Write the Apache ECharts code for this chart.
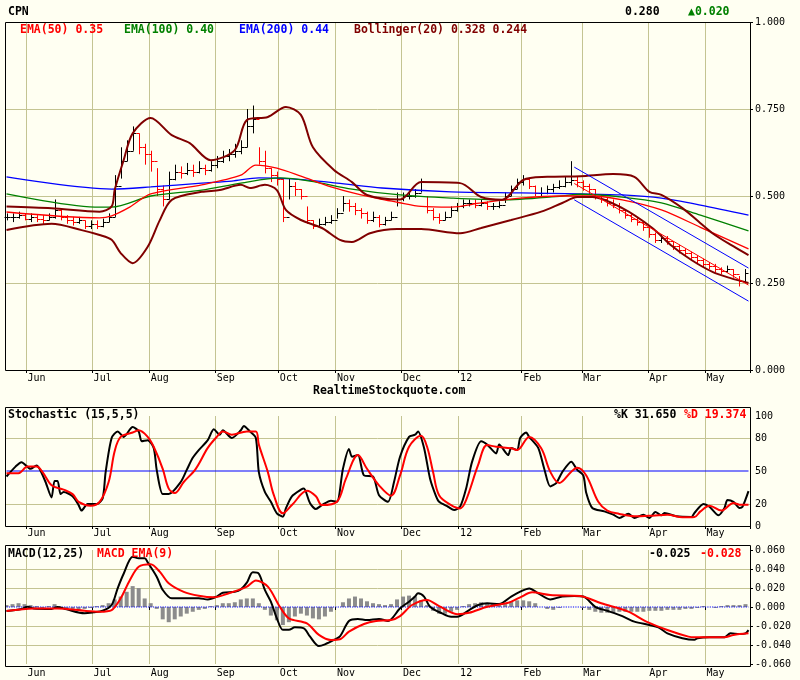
<!DOCTYPE html>
<html>
<head>
<meta charset="utf-8">
<script src="https://cdn.jsdelivr.net/npm/echarts@6/dist/echarts.min.js"></script>
<style>
html,body{margin:0;padding:0;background:#fffff2;}
#main{width:800px;height:680px;}
</style>
</head>
<body>
<div id="main"></div>
<script>
// trading days shown, month labels and the day each month starts on
var DAYS = 248;
var months = ['Jun','Jul','Aug','Sep','Oct','Nov','Dec','12','Feb','Mar','Apr','May'];
var monthStart = [7,29,48,70,91,110,132,151,172,192,214,233];

// price bars, one bar per 2 trading days
var BAR_STEP = 2;
var cl = [0.44,0.44,0.445,0.435,0.44,0.435,0.43,0.44,0.46,0.44,
	0.43,0.425,0.43,0.415,0.42,0.415,0.425,0.44,0.53,0.6,
	0.63,0.68,0.64,0.62,0.6,0.52,0.49,0.55,0.57,0.565,
	0.575,0.57,0.58,0.575,0.59,0.6,0.615,0.62,0.63,0.64,
	0.7,0.72,0.6,0.58,0.56,0.55,0.44,0.53,0.52,0.5,
	0.43,0.415,0.42,0.425,0.43,0.45,0.48,0.47,0.46,0.45,
	0.43,0.44,0.42,0.43,0.44,0.49,0.5,0.5,0.51,0.54,
	0.46,0.44,0.43,0.44,0.46,0.47,0.48,0.48,0.475,0.48,
	0.47,0.47,0.475,0.5,0.52,0.54,0.55,0.53,0.51,0.51,
	0.52,0.525,0.53,0.54,0.545,0.54,0.53,0.52,0.5,0.49,
	0.48,0.475,0.46,0.445,0.435,0.425,0.41,0.39,0.375,0.38,
	0.37,0.355,0.345,0.335,0.325,0.315,0.305,0.3,0.29,0.285,
	0.29,0.275,0.255,0.28];
var hi = [0.45,0.45,0.455,0.45,0.45,0.445,0.445,0.45,0.49,0.465,
	0.445,0.44,0.44,0.43,0.43,0.43,0.435,0.45,0.56,0.64,
	0.66,0.7,0.68,0.65,0.63,0.58,0.53,0.57,0.59,0.585,
	0.595,0.59,0.6,0.59,0.6,0.615,0.63,0.635,0.65,0.66,
	0.75,0.76,0.64,0.63,0.58,0.57,0.55,0.55,0.54,0.52,
	0.47,0.43,0.435,0.44,0.445,0.465,0.5,0.49,0.48,0.465,
	0.455,0.455,0.445,0.44,0.455,0.51,0.51,0.515,0.52,0.55,
	0.5,0.465,0.45,0.455,0.47,0.48,0.49,0.49,0.49,0.49,
	0.485,0.48,0.485,0.51,0.53,0.55,0.56,0.55,0.53,0.525,
	0.53,0.535,0.545,0.555,0.6,0.555,0.545,0.535,0.52,0.505,
	0.495,0.49,0.48,0.46,0.45,0.44,0.425,0.41,0.395,0.39,
	0.385,0.37,0.36,0.35,0.34,0.33,0.32,0.31,0.305,0.295,
	0.3,0.29,0.27,0.29];
var lo = [0.43,0.425,0.435,0.43,0.425,0.425,0.42,0.43,0.435,0.43,
	0.42,0.415,0.42,0.405,0.405,0.405,0.41,0.425,0.44,0.55,
	0.6,0.63,0.62,0.59,0.57,0.5,0.47,0.49,0.545,0.55,
	0.56,0.555,0.565,0.56,0.57,0.58,0.595,0.6,0.61,0.62,
	0.64,0.68,0.59,0.565,0.54,0.53,0.425,0.49,0.5,0.49,
	0.42,0.405,0.41,0.415,0.42,0.435,0.455,0.455,0.445,0.435,
	0.42,0.425,0.41,0.415,0.43,0.47,0.485,0.49,0.495,0.51,
	0.45,0.43,0.42,0.43,0.44,0.455,0.465,0.47,0.465,0.47,
	0.46,0.46,0.465,0.48,0.5,0.52,0.53,0.52,0.5,0.5,
	0.505,0.51,0.52,0.525,0.53,0.525,0.515,0.505,0.49,0.48,
	0.47,0.465,0.45,0.435,0.425,0.415,0.4,0.38,0.365,0.365,
	0.36,0.345,0.335,0.325,0.315,0.305,0.295,0.29,0.28,0.275,
	0.28,0.265,0.24,0.25];

// overlays on the price panel: [day, value]
var ema50 = [[0,0.454],[31,0.437],[35,0.443],[41,0.468],[48,0.506],[65,0.532],[78,0.56],[83,0.589],[90,0.58],
	[98,0.557],[108,0.526],[118,0.503],[125,0.49],[130,0.482],[138,0.47],[148,0.468],[158,0.48],[171,0.494],
	[185,0.5],[195,0.5],[205,0.489],[218,0.46],[231,0.41],[247,0.348]];
var ema100 = [[0,0.506],[31,0.468],[35,0.468],[48,0.5],[65,0.517],[78,0.537],[91,0.552],[101,0.543],[115,0.52],
	[131,0.503],[148,0.494],[165,0.489],[185,0.5],[191,0.505],[205,0.497],[218,0.48],[231,0.445],[247,0.4]];
var ema200 = [[0,0.555],[35,0.52],[48,0.526],[65,0.537],[75,0.543],[84,0.552],[95,0.549],[110,0.537],
	[125,0.523],[148,0.512],[171,0.509],[191,0.506],[205,0.503],[218,0.494],[231,0.474],[247,0.445]];
var bollUp = [[0,0.47],[15,0.465],[31,0.455],[35,0.47],[36,0.517],[39,0.603],[42,0.68],[48,0.724],[55,0.675],
	[61,0.652],[68,0.603],[76,0.632],[80,0.718],[87,0.727],[93,0.756],[98,0.733],[102,0.64],[109,0.575],
	[115,0.54],[120,0.503],[131,0.49],[138,0.54],[151,0.537],[158,0.497],[165,0.489],[172,0.546],[180,0.555],
	[191,0.557],[202,0.563],[209,0.555],[214,0.512],[218,0.503],[225,0.465],[231,0.422],[235,0.393],
	[241,0.36],[247,0.33]];
var bollLo = [[0,0.402],[15,0.42],[25,0.402],[31,0.388],[35,0.374],[38,0.336],[42,0.307],[47,0.354],[51,0.43],
	[55,0.489],[65,0.512],[71,0.517],[78,0.532],[81,0.523],[86,0.532],[90,0.517],[93,0.46],[98,0.431],
	[105,0.408],[111,0.374],[115,0.368],[121,0.393],[130,0.405],[138,0.405],[151,0.393],[158,0.408],
	[168,0.431],[178,0.455],[185,0.48],[190,0.497],[195,0.497],[205,0.465],[215,0.408],[221,0.36],
	[228,0.316],[235,0.282],[241,0.264],[247,0.25]];
var chanUp = [[189,0.583],[247,0.293]];
var chanMid = [[189,0.536],[247,0.244]];
var chanLo = [[189,0.489],[247,0.198]];

// stochastic %K and %D: [day, value]
var stochK = [[0,45],[3,54],[5,58],[8,52],[10,55],[11,52],[13,40],[15,26],[16,41],[17,41],[18,29],[19,31],
	[22,27],[24,19],[25,14],[27,20],[29,20],[30,20],[32,25],[33,49],[35,80],[37,86],[39,81],[42,90],[44,86],
	[45,77],[47,78],[49,71],[50,51],[52,29],[54,29],[58,40],[60,51],[62,62],[64,69],[67,78],[69,88],[71,83],
	[72,87],[75,80],[78,87],[79,91],[81,86],[83,80],[84,49],[86,31],[88,22],[90,11.5],[92,8.5],[93,16],
	[95,27],[98,33],[99,34],[101,21],[103,15.5],[105,19],[108,23],[110,22],[112,52],[114,70],[115,63],
	[117,64.5],[119,46],[122,45],[124,28],[127,22],[129,40],[131,63],[134,81],[136,83],[137,86],[139,71],
	[141,43],[143,27],[144,22],[147,17.5],[149,14.5],[151,17.5],[153,34],[155,58.5],[158,77],[160,74],
	[163,66],[164,74],[167,64.5],[168,71],[170,69],[171,80],[173,85],[174,81],[177,71],[179,52],[181,36],
	[183,39],[185,49],[188,58.5],[190,51],[192,46],[193,30],[195,16.4],[199,13.3],[202,10.3],[204,7.3],
	[207,11.2],[209,7.3],[212,10.3],[214,7.3],[216,12.7],[218,9.7],[219,11.8],[223,8.8],[228,8.2],
	[229,11.8],[232,20],[234,17.5],[237,9.7],[239,16.4],[240,23.6],[242,22],[244,16.4],[245,17.5],[247,31.65]];
var stochD = [[0,48],[4,48],[7,54],[10,54],[12,49],[15,37],[19,33],[22,29],[24,22],[28,18.5],[31,22],[34,40],
	[36,68],[38,81],[42,85],[44,87],[47,81],[49,72],[52,52],[54,34],[56,30],[59,40],[63,52],[67,71],[70,81],
	[72,86],[75,83],[80,86],[83,86],[84,74],[87,49],[89,28],[92,11.5],[95,19],[100,32],[103,27],[105,19],
	[110,22],[113,43],[117,64.5],[120,52],[124,37],[128,27.6],[131,46],[134,72],[138,82],[140,72],[142,49],
	[144,28],[148,19],[151,16],[153,23.6],[157,55.5],[160,73.6],[163,72],[168,70.6],[170,69],[174,81],
	[178,70.6],[181,49.4],[184,39],[188,49.4],[190,53],[193,46],[197,22],[200,14],[204,11],[209,8.8],
	[215,9.4],[220,10.3],[225,7.9],[229,8.2],[231,13.3],[234,18.5],[238,14],[242,21],[244,19.4],[247,19.4]];
var stochMid = [[0,50],[247,50]];

// MACD line, its EMA(9) signal: [day, value]; histogram per price bar
var macd = [[0,-0.0042],[5,-0.0022],[7,0.0002],[9,-0.0015],[15,-0.002],[17,0],[20,-0.0025],[26,-0.0066],
	[29,-0.0056],[32,-0.004],[35,0.0021],[37,0.0197],[39,0.035],[42,0.053],[44,0.0512],[46,0.0512],[47,0.047],
	[50,0.0319],[52,0.018],[55,0.0091],[59,0.0091],[64,0.0091],[67,0.008],[70,0.011],[72,0.015],[76,0.016],
	[78,0.0186],[80,0.0256],[82,0.0365],[84,0.035],[86,0.018],[88,0.0056],[90,-0.0119],[92,-0.024],
	[94,-0.024],[96,-0.0214],[99,-0.0225],[101,-0.031],[104,-0.0411],[106,-0.0393],[109,-0.0347],
	[111,-0.031],[114,-0.0147],[117,-0.0126],[120,-0.0137],[124,-0.0126],[127,-0.0147],[131,-0.0014],
	[134,0.0056],[136,0.011],[137,0.0144],[139,0.011],[141,0.0002],[145,-0.0068],[148,-0.0103],[150,-0.0103],
	[154,-0.0032],[157,0.0021],[160,0.0039],[164,0.0032],[168,0.011],[171,0.0161],[174,0.0196],[177,0.0144],
	[181,0.008],[185,0.011],[189,0.0116],[192,0.011],[196,0.0002],[200,-0.004],[205,-0.0096],[209,-0.0154],
	[214,-0.0189],[217,-0.0214],[220,-0.0277],[225,-0.0328],[229,-0.0345],[230,-0.0328],[234,-0.0319],
	[239,-0.0319],[241,-0.0277],[244,-0.0284],[246,-0.0277],[247,-0.0243]];
var signal = [[0,-0.0042],[9,-0.0015],[17,-0.0015],[26,-0.004],[31,-0.0049],[35,-0.0032],[38,0.0091],
	[41,0.028],[44,0.0424],[48,0.045],[51,0.0372],[54,0.025],[59,0.016],[64,0.0119],[69,0.0102],[74,0.0144],
	[80,0.0214],[83,0.028],[87,0.0214],[91,0.0002],[94,-0.0119],[100,-0.0172],[104,-0.0294],[108,-0.0347],
	[111,-0.034],[114,-0.026],[119,-0.0179],[123,-0.0147],[128,-0.0137],[131,-0.0096],[135,0.0021],
	[140,0.0074],[144,0.0009],[150,-0.0075],[154,-0.0061],[160,0.0002],[167,0.0044],[171,0.0102],
	[175,0.0154],[181,0.0126],[191,0.0116],[198,0.0039],[207,-0.0049],[213,-0.0154],[220,-0.0242],
	[227,-0.0312],[229,-0.0319],[239,-0.0319],[242,-0.0294],[247,-0.0277]];
var hist = [0.002,0.003,0.004,0.003,0.002,0.001,-0.001,0.001,0.003,-0.002,
	-0.003,-0.004,-0.003,-0.002,-0.001,0.001,0.002,0.004,0.008,0.011,
	0.016,0.022,0.02,0.009,0.004,-0.002,-0.013,-0.016,-0.013,-0.01,
	-0.007,-0.005,-0.003,-0.002,0.001,0.002,0.004,0.004,0.005,0.008,
	0.009,0.009,0.004,-0.003,-0.009,-0.014,-0.019,-0.016,-0.01,-0.007,
	-0.009,-0.012,-0.013,-0.01,-0.005,0,0.005,0.009,0.011,0.009,
	0.006,0.004,0.003,0.002,0.003,0.008,0.011,0.012,0.011,0.007,
	0.002,-0.004,-0.007,-0.007,-0.005,-0.003,0.001,0.003,0.004,0.005,
	0.004,0.003,0.002,0.003,0.006,0.007,0.007,0.006,0.004,0,
	-0.002,-0.003,-0.001,0,0,0,-0.001,-0.003,-0.005,-0.006,
	-0.006,-0.006,-0.005,-0.005,-0.005,-0.005,-0.005,-0.004,-0.004,-0.004,
	-0.003,-0.003,-0.003,-0.002,-0.002,-0.001,0.001,0,-0.001,0.001,
	0.002,0.002,0.002,0.003];
var macdZero = [[0,0],[247,0]];

var stochTicks = [0,20,50,80,100];

var MONO = '"DejaVu Sans Mono", monospace';
var GRID_C = '#c4c492';
var NONE = 'rgba(0,0,0,0)';

var dayLabels = [];
for (var i = 0; i < DAYS; i++) dayLabels.push('');
for (var m = 0; m < months.length; m++) dayLabels[monthStart[m]] = months[m];
function isMonth(idx) { return monthStart.indexOf(idx) >= 0; }

var priceData = [];
var histData = [];
for (var k = 0; k < cl.length; k++) {
	var op = k > 0 ? cl[k - 1] : cl[k];
	priceData.push([k * BAR_STEP, hi[k], lo[k], cl[k], op]);
	histData.push([k * BAR_STEP, hist[k]]);
}

function renderOhlc(params, api) {
	var day = api.value(0);
	var top = api.coord([day, api.value(1)]);
	var bot = api.coord([day, api.value(2)]);
	var c = api.coord([day, api.value(3)]);
	var o = api.coord([day, api.value(4)]);
	var x = Math.round(top[0]) + 0.5;
	var cy = Math.round(c[1]) + 0.5;
	var oy = Math.round(o[1]) + 0.5;
	var col = api.value(3) >= api.value(4) ? '#000000' : '#ff0000';
	return {
		type: 'group',
		children: [
			{type: 'line', shape: {x1: x, y1: top[1], x2: x, y2: bot[1]}, style: {stroke: col, lineWidth: 1}},
			{type: 'line', shape: {x1: x - 3, y1: oy, x2: x, y2: oy}, style: {stroke: col, lineWidth: 1}},
			{type: 'line', shape: {x1: x, y1: cy, x2: x + 3, y2: cy}, style: {stroke: col, lineWidth: 1}}
		]
	};
}

function xAxisFor(gi, margin) {
	return {
		type: 'category', gridIndex: gi, data: dayLabels, boundaryGap: true,
		axisLine: {show: false},
		axisTick: {show: true, interval: function (i) { return isMonth(i); }, length: 3, lineStyle: {color: '#000'}},
		axisLabel: {interval: function (i) { return isMonth(i); }, align: 'left', margin: margin,
			color: '#000', fontFamily: MONO, fontSize: 10},
		splitLine: {show: true, interval: function (i) { return isMonth(i); }, lineStyle: {color: GRID_C, width: 1}}
	};
}

function lineSeries(name, gi, data, color, width, smooth, type) {
	return {
		name: name, type: 'line', xAxisIndex: gi, yAxisIndex: gi, data: data,
		symbol: 'none', showSymbol: false, smooth: smooth, animation: false, silent: true,
		lineStyle: {color: color, width: width, type: type || 'solid'}
	};
}

function label(text, x, y, color, bold) {
	return {type: 'text', left: x, top: y, z: 100,
		style: {text: text, fill: color, font: (bold ? 'bold ' : '') + '11.5px ' + MONO}};
}
function frame(y, h) {
	return {type: 'rect', z: 100, shape: {x: 5.5, y: y + 0.5, width: 745, height: h},
		style: {fill: NONE, stroke: '#000', lineWidth: 1}};
}

var chart = echarts.init(document.getElementById('main'));
var option = {
	backgroundColor: '#fffff2',
	animation: false,
	grid: [
		{left: 5, right: 50, top: 22, height: 348},
		{left: 5, right: 50, top: 416, height: 110},
		{left: 5, right: 50, top: 550, height: 114}
	],
	xAxis: [xAxisFor(0, 3), xAxisFor(1, 2), xAxisFor(2, 4)],
	yAxis: [
		{type: 'value', gridIndex: 0, position: 'right', min: 0, max: 1, interval: 0.25,
			axisLine: {show: false}, axisTick: {show: true, length: 3, lineStyle: {color: '#000'}},
			axisLabel: {margin: 5, color: '#000', fontFamily: MONO, fontSize: 10,
				formatter: function (v) { return v.toFixed(3); }},
			splitLine: {lineStyle: {color: [NONE, GRID_C, GRID_C, GRID_C, NONE]}}},
		{type: 'value', gridIndex: 1, position: 'right', min: 0, max: 100, interval: 10,
			axisLine: {show: false}, axisTick: {show: false},
			axisLabel: {margin: 5, color: '#000', fontFamily: MONO, fontSize: 10,
				formatter: function (v) { return stochTicks.indexOf(v) >= 0 ? String(v) : ''; }},
			splitLine: {lineStyle: {color: [NONE, NONE, GRID_C, NONE, NONE, NONE, NONE, NONE, GRID_C, NONE, NONE]}}},
		{type: 'value', gridIndex: 2, position: 'right', min: -0.06, max: 0.06, interval: 0.02,
			axisLine: {show: false}, axisTick: {show: true, length: 3, lineStyle: {color: '#000'}},
			axisLabel: {margin: 5, color: '#000', fontFamily: MONO, fontSize: 10,
				formatter: function (v) { return Math.abs(v) < 1e-9 ? '0.000' : v.toFixed(3); }},
			splitLine: {lineStyle: {color: [NONE, GRID_C, GRID_C, NONE, GRID_C, GRID_C, NONE]}}}
	],
	series: [
		{type: 'custom', name: 'CPN', xAxisIndex: 0, yAxisIndex: 0, data: priceData,
			renderItem: renderOhlc, encode: {x: 0, y: [1, 2, 3, 4]}, animation: false, silent: true},
		lineSeries('EMA(200)', 0, ema200, '#0000ff', 1.3, 0.3),
		lineSeries('EMA(100)', 0, ema100, '#008000', 1.3, 0.3),
		lineSeries('EMA(50)', 0, ema50, '#ff0000', 1.3, 0.3),
		lineSeries('Bollinger upper', 0, bollUp, '#800000', 2, 0.3),
		lineSeries('Bollinger lower', 0, bollLo, '#800000', 2, 0.3),
		lineSeries('channel top', 0, chanUp, '#0000ff', 1, false),
		lineSeries('channel mid', 0, chanMid, '#ff0000', 1, false),
		lineSeries('channel bottom', 0, chanLo, '#0000ff', 1, false),
		lineSeries('50 level', 1, stochMid, '#0000ff', 1.2, false),
		lineSeries('%K', 1, stochK, '#000000', 2, 0.25),
		lineSeries('%D', 1, stochD, '#ff0000', 2, 0.35),
		{type: 'bar', name: 'hist', xAxisIndex: 2, yAxisIndex: 2, data: histData, barWidth: 4,
			itemStyle: {color: '#8c8c8c'}, animation: false, silent: true},
		lineSeries('zero', 2, macdZero, '#0000ff', 1.2, false, 'dotted'),
		lineSeries('MACD', 2, macd, '#000000', 2, 0.3),
		lineSeries('MACD EMA(9)', 2, signal, '#ff0000', 2, 0.3)
	],
	graphic: [
		frame(22, 348), frame(407, 119), frame(545, 121),
		label('CPN', 8, 6, '#000', true),
		label('0.280', 625, 6, '#000', true),
		label('\u25B20.020', 688, 6, '#008000', true),
		label('EMA(50) 0.35', 20, 24, '#ff0000', true),
		label('EMA(100) 0.40', 124, 24, '#008000', true),
		label('EMA(200) 0.44', 239, 24, '#0000ff', true),
		label('Bollinger(20) 0.328 0.244', 354, 24, '#800000', true),
		label('RealtimeStockquote.com', 313, 385, '#000', true),
		label('Stochastic (15,5,5)', 8, 409, '#000', true),
		label('%K 31.650', 614, 409, '#000', true),
		label('%D 19.374', 684, 409, '#ff0000', true),
		label('MACD(12,25)', 8, 548, '#000', true),
		label('MACD EMA(9)', 97, 548, '#ff0000', true),
		label('-0.025', 649, 548, '#000', true),
		label('-0.028', 700, 548, '#ff0000', true)
	]
};
chart.setOption(option);
window.addEventListener('resize', function () { chart.resize(); });
</script>
</body>
</html>
